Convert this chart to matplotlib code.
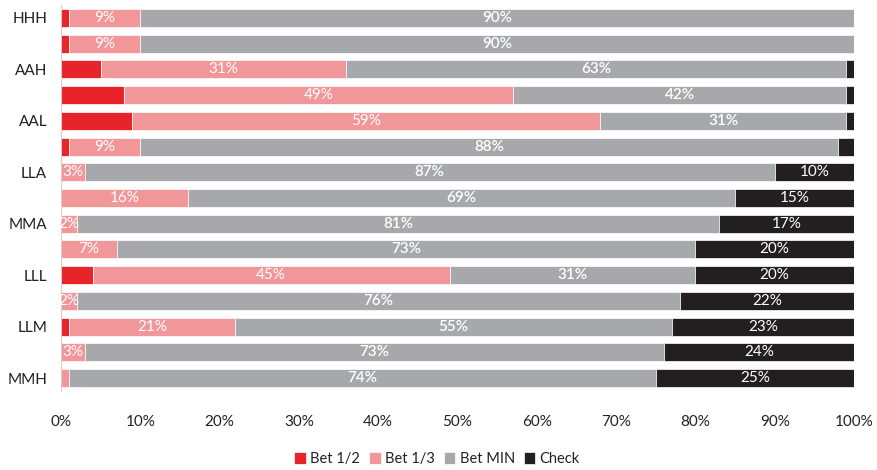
import matplotlib
matplotlib.use("Agg")
import matplotlib.pyplot as plt
import numpy as np

# Board textures, top to bottom (every other row is unlabelled on the axis)
row_labels = ["HHH", "", "AAH", "", "AAL", "", "LLA", "", "MMA", "", "LLL", "", "LLM", "", "MMH"]

# Action frequencies in percent
bet_half  = [1, 1, 5, 8, 9, 1, 0, 0, 0, 0, 4, 0, 1, 0, 0]
bet_third = [9, 9, 31, 49, 59, 9, 3, 16, 2, 7, 45, 2, 21, 3, 1]
bet_min   = [90, 90, 63, 42, 31, 88, 87, 69, 81, 73, 31, 76, 55, 73, 74]
check     = [0, 0, 1, 1, 1, 2, 10, 15, 17, 20, 20, 22, 23, 24, 25]

series_names = ["Bet 1/2", "Bet 1/3", "Bet MIN", "Check"]
x_ticks = [0, 10, 20, 30, 40, 50, 60, 70, 80, 90, 100]

colors = ["#E8242B", "#F19799", "#A7A8AB", "#231F20"]
label_min = [None, 2, 2, 5]  # smallest value that gets a data label (None = never)
label_weight = [None, "normal", "semibold", "normal"]

plt.rcParams["font.family"] = ["Lato", "DejaVu Sans"]

fig = plt.figure(figsize=(8.77, 4.70), dpi=100)
ax = fig.add_axes([61 / 877, 1 - 391 / 470, 793 / 877, 386 / 470])

n = len(row_labels)
y = np.arange(n)
left = np.zeros(n)
for name, vals, col, lmin, lw in zip(series_names, [bet_half, bet_third, bet_min, check],
                                     colors, label_min, label_weight):
    vals = np.array(vals, dtype=float)
    ax.barh(y, vals, left=left, height=0.7, color=col, edgecolor="white",
            linewidth=0.5, label=name)
    if lmin is not None:
        for yi, (l, v) in enumerate(zip(left, vals)):
            if v >= lmin:
                ax.text(l + v / 2, yi, f"{int(v)}%", ha="center", va="center",
                        color="white", fontsize=11, fontweight=lw)
    left += vals

ax.set_xlim(0, 100)
ax.set_ylim(n - 0.5, -0.5)
ax.set_yticks(y)
ax.set_yticklabels(row_labels, fontsize=11, color="#222222")
ax.set_xticks(x_ticks)
ax.set_xticklabels([f"{t}%" for t in x_ticks], fontsize=11, color="#222222")
ax.tick_params(axis="both", length=0)
ax.tick_params(axis="x", pad=17)
ax.tick_params(axis="y", pad=10)

for s in ["top", "right", "bottom"]:
    ax.spines[s].set_visible(False)
ax.spines["left"].set_color("#E3C9C9")
ax.spines["left"].set_linewidth(0.8)

leg = fig.legend(loc="center", bbox_to_anchor=(437 / 877, 1 - 459 / 470), ncol=4,
                 frameon=False, fontsize=10.5, handlelength=0.8, handleheight=0.8,
                 handletextpad=0.3, columnspacing=0.6)
for t in leg.get_texts():
    t.set_color("#222222")

fig.savefig("out.png", dpi=100, facecolor="white")
